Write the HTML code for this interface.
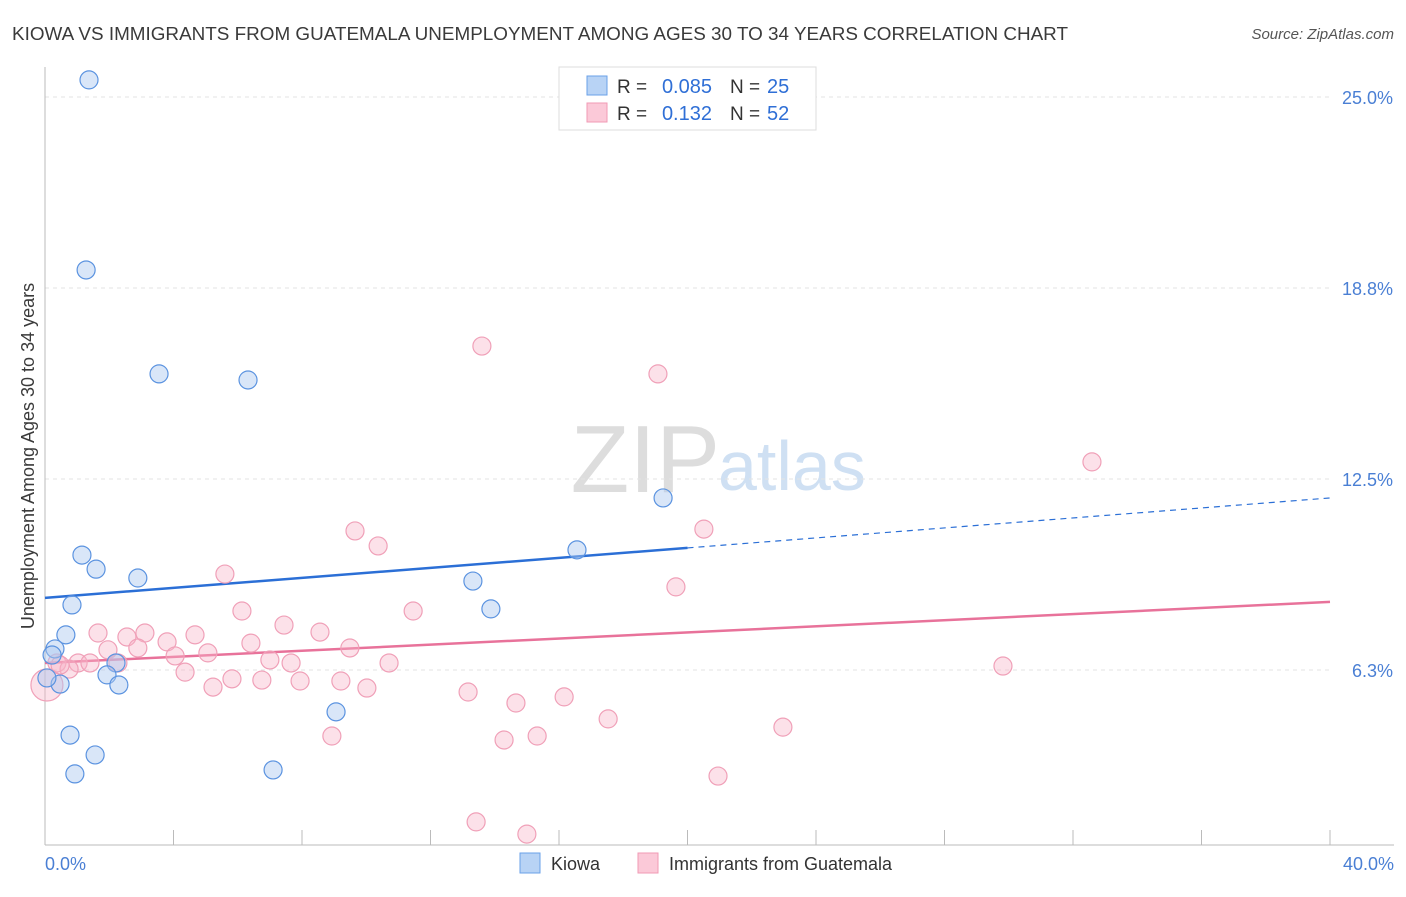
<!DOCTYPE html>
<html><head><meta charset="utf-8"><style>
body{margin:0;background:#fff;font-family:"Liberation Sans",sans-serif}
svg text{font-family:"Liberation Sans",sans-serif}
</style></head><body>
<svg id="c" width="1406" height="892" xmlns="http://www.w3.org/2000/svg">
<text x="12" y="40" font-size="18" fill="#3a3a3a" textLength="1056" lengthAdjust="spacingAndGlyphs">KIOWA VS IMMIGRANTS FROM GUATEMALA UNEMPLOYMENT AMONG AGES 30 TO 34 YEARS CORRELATION CHART</text>
<text x="1394" y="39" font-size="15" font-style="italic" fill="#555" text-anchor="end">Source: ZipAtlas.com</text>
<text x="720" y="492" font-size="96" font-family="Liberation Serif,serif" fill="#ddd" text-anchor="end">ZIP</text>
<text x="718" y="490" font-size="70" fill="#cfe0f3">atlas</text>
<g id="grid"></g><g id="axes"></g><g id="trends"></g><g id="pts"></g>
<text x="34" y="456" font-size="18" fill="#3a3a3a" text-anchor="middle" transform="rotate(-90 34 456)">Unemployment Among Ages 30 to 34 years</text>
<text x="45" y="870" font-size="18" fill="#4a7fd4">0.0%</text>
<text x="1394" y="870" font-size="18" fill="#4a7fd4" text-anchor="end">40.0%</text>
<g>
<rect x="559" y="67" width="257" height="63" fill="#fff" stroke="#ddd"/>
<rect x="587" y="76" width="20" height="19" fill="#b8d3f5" stroke="#6aa0e8"/>
<rect x="587" y="103" width="20" height="19" fill="#fbc9d8" stroke="#f09ab5"/>
<text x="617" y="93" font-size="19" fill="#333">R =</text>
<text x="712" y="93" font-size="20" fill="#2f6fd6" text-anchor="end">0.085</text>
<text x="730" y="93" font-size="19" fill="#333">N =</text>
<text x="767" y="93" font-size="20" fill="#2f6fd6">25</text>
<text x="617" y="120" font-size="19" fill="#333">R =</text>
<text x="712" y="120" font-size="20" fill="#2f6fd6" text-anchor="end">0.132</text>
<text x="730" y="120" font-size="19" fill="#333">N =</text>
<text x="767" y="120" font-size="20" fill="#2f6fd6">52</text>
</g>
<g>
<rect x="520" y="853" width="20" height="20" fill="#b8d3f5" stroke="#6aa0e8"/>
<text x="551" y="870" font-size="18" fill="#333">Kiowa</text>
<rect x="638" y="853" width="20" height="20" fill="#fbc9d8" stroke="#f09ab5"/>
<text x="669" y="870" font-size="18" fill="#333">Immigrants from Guatemala</text>
</g>
</svg>
<script>
const yTicks=[6.25,12.5,18.75,25];
const yTickLabels=["6.3%","12.5%","18.8%","25.0%"];
const xTicks=[0,4,8,12,16,20,24,28,32,36,40];
const kiowaX=[1.37,1.28,3.55,6.32,19.24,16.56,1.15,1.59,2.89,13.32,0.84,13.88,0.65,0.31,0.22,2.21,1.93,0.47,2.30,9.06,0.78,1.56,0.93,7.10,0.06];
const kiowaY=[25.56,19.34,15.94,15.74,11.88,10.18,10.01,9.55,9.26,9.16,8.38,8.25,7.40,6.94,6.74,6.48,6.09,5.79,5.76,4.88,4.12,3.47,2.85,2.98,5.99];
const guatX=[13.60,19.08,32.59,20.51,9.65,10.37,5.60,19.64,6.13,11.46,7.44,1.65,3.11,8.56,4.67,2.55,3.80,6.41,9.49,1.96,2.89,5.07,4.05,7.00,7.66,0.37,1.03,1.40,2.27,10.71,29.82,0.75,4.36,5.82,6.75,7.94,9.21,5.23,10.02,13.17,16.16,14.66,17.53,22.97,8.93,14.29,15.32,20.95,13.42,15.00,0.06,0.47];
const guatY=[16.85,15.94,13.06,10.86,10.80,10.31,9.39,8.97,8.18,8.18,7.72,7.46,7.46,7.49,7.40,7.33,7.17,7.13,6.97,6.91,6.97,6.81,6.71,6.58,6.48,6.48,6.48,6.48,6.48,6.48,6.38,6.28,6.18,5.96,5.92,5.89,5.89,5.69,5.66,5.53,5.37,5.17,4.65,4.38,4.09,3.96,4.09,2.78,1.28,0.88,5.76,6.41];
const kiowaTrend=[8.61,11.88];
const guatTrend=[6.48,8.48];
const kiowaSolidEnd=20;
const X=v=>45+v*32.125, Y=v=>861-v*30.56;
const NS="http://www.w3.org/2000/svg";
function mk(t,a,p){const e=document.createElementNS(NS,t);for(const k in a)e.setAttribute(k,a[k]);document.getElementById(p).appendChild(e);return e;}
yTicks.forEach((t,i)=>{
 const l=mk('line',{x1:45,x2:1330,y1:Y(t),y2:Y(t),stroke:'#e3e3e3','stroke-dasharray':'4,4'},'grid');
 
 
 const tx=mk('text',{x:1393,y:Y(t)+7,'font-size':18,fill:'#4a7fd4','text-anchor':'end'},'grid');
 tx.textContent=yTickLabels[i];
 
 
});
const ya=mk('line',{x1:45,x2:45,y1:67,y2:845,stroke:'#bbb'},'axes');


const xa=mk('line',{x1:45,x2:1394,y1:845,y2:845,stroke:'#bbb'},'axes');


xTicks.forEach(t=>{const l=mk('line',{x1:X(t),x2:X(t),y1:830,y2:845,stroke:'#bbb'},'axes');
 
 });
function ty(tr,x){return tr[0]+(tr[1]-tr[0])*x/40;}
let t1=mk('line',{x1:X(0),y1:Y(ty(kiowaTrend,0)),x2:X(kiowaSolidEnd),y2:Y(ty(kiowaTrend,kiowaSolidEnd)),stroke:'#2b6fd6','stroke-width':2.5},'trends');


let t2=mk('line',{x1:X(kiowaSolidEnd),y1:Y(ty(kiowaTrend,kiowaSolidEnd)),x2:X(40),y2:Y(ty(kiowaTrend,40)),stroke:'#2b6fd6','stroke-width':1.2,'stroke-dasharray':'6,5'},'trends');


let t3=mk('line',{x1:X(0),y1:Y(ty(guatTrend,0)),x2:X(40),y2:Y(ty(guatTrend,40)),stroke:'#e8729a','stroke-width':2.5},'trends');


guatX.forEach((x,i)=>{const c=mk('circle',{cx:X(x),cy:Y(guatY[i]),r:(i==50?16:9),fill:'rgba(248,180,200,0.4)',stroke:'#f0a0b8','stroke-width':1.2},'pts');
 
 });
kiowaX.forEach((x,i)=>{const c=mk('circle',{cx:X(x),cy:Y(kiowaY[i]),r:9,fill:'rgba(170,200,240,0.45)',stroke:'#5b93e0','stroke-width':1.2},'pts');
 
 });
</script>
</body></html>
